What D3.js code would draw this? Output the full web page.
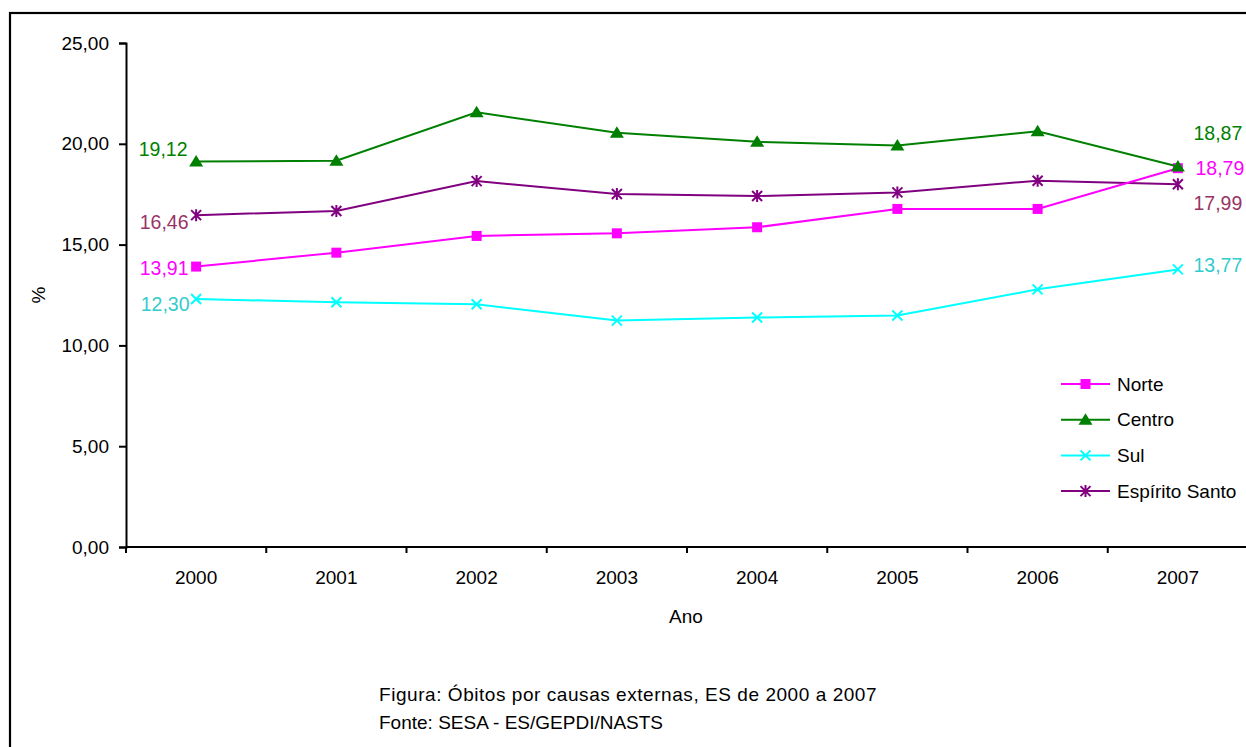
<!DOCTYPE html>
<html>
<head>
<meta charset="utf-8">
<script src="https://cdn.jsdelivr.net/npm/d3@7"></script>
<style>
  html, body { margin: 0; padding: 0; background: #fff; }
  svg { display: block; }
  text { font-family: "Liberation Sans", Arial, sans-serif; }
</style>
</head>
<body>
<script>
// Anos (categorias do eixo X)
const years = ["2000", "2001", "2002", "2003", "2004", "2005", "2006", "2007"];

// Percentual de óbitos por causas externas, por região
const norte = [13.91, 14.60, 15.43, 15.56, 15.86, 16.77, 16.77, 18.79];
const centro = [19.12, 19.16, 21.56, 20.55, 20.10, 19.92, 20.62, 18.87];
const sul = [12.30, 12.14, 12.04, 11.23, 11.38, 11.48, 12.78, 13.77];
const espiritoSanto = [16.46, 16.67, 18.15, 17.51, 17.41, 17.59, 18.17, 17.99];

const seriesNames = ["Norte", "Centro", "Sul", "Espírito Santo"];
const yTicks = [0, 5, 10, 15, 20, 25];

const W = 1246, H = 747;
const plot = { left: 126, right: 1248, top: 43, bottom: 547 };

const fmt = v => d3.format(".2f")(v).replace(".", ",");

const svg = d3.select("body").append("svg")
  .attr("width", W).attr("height", H);

// moldura externa
svg.append("rect")
  .attr("x", 10).attr("y", 13)
  .attr("width", W + 20).attr("height", H + 20)
  .attr("fill", "none").attr("stroke", "#000").attr("stroke-width", 2.2);

const x = d3.scaleBand().domain(years).range([plot.left, plot.right]).padding(0);
const y = d3.scaleLinear().domain([0, 25]).range([plot.bottom, plot.top]);

// eixo Y
const yAxis = svg.append("g")
  .attr("transform", `translate(${plot.left},0)`)
  .call(d3.axisLeft(y).tickValues(yTicks).tickFormat(fmt).tickSize(7).tickPadding(10));
yAxis.select(".domain").attr("stroke", "#000").attr("stroke-width", 2);
yAxis.selectAll(".tick line").attr("stroke", "#000").attr("stroke-width", 2);
yAxis.selectAll(".tick text").attr("font-size", 19).attr("fill", "#000");

// eixo X: marcas nas divisões entre categorias
const xAxisG = svg.append("g").attr("transform", `translate(0,${plot.bottom})`);
xAxisG.append("line")
  .attr("x1", plot.left).attr("x2", plot.right)
  .attr("stroke", "#000").attr("stroke-width", 2);
const bounds = years.map(d => x(d)).concat([plot.right]);
xAxisG.selectAll("line.tk").data(bounds).enter().append("line")
  .attr("class", "tk")
  .attr("x1", d => d).attr("x2", d => d)
  .attr("y1", 0).attr("y2", 6)
  .attr("stroke", "#000").attr("stroke-width", 2);
xAxisG.selectAll("text").data(years).enter().append("text")
  .attr("x", d => x(d) + x.bandwidth() / 2)
  .attr("y", 37)
  .attr("text-anchor", "middle")
  .attr("font-size", 19)
  .text(d => d);

// títulos dos eixos
svg.append("text")
  .attr("x", (plot.left + plot.right) / 2 - 1).attr("y", 623)
  .attr("text-anchor", "middle").attr("font-size", 19).text("Ano");
svg.append("text")
  .attr("transform", `translate(45,${(plot.top + plot.bottom) / 2}) rotate(-90)`)
  .attr("text-anchor", "middle").attr("font-size", 19).text("%");

// legenda da figura
svg.append("text").attr("x", 379).attr("y", 701).attr("font-size", 19)
  .attr("letter-spacing", 0.55)
  .text("Figura: Óbitos por causas externas, ES de 2000 a 2007");
svg.append("text").attr("x", 379).attr("y", 729).attr("font-size", 19)
  .text("Fonte: SESA - ES/GEPDI/NASTS");

// marcadores
function drawMarker(g, type, color) {
  if (type === "square") {
    g.append("rect").attr("x", -5).attr("y", -5).attr("width", 10).attr("height", 10)
      .attr("fill", color);
  } else if (type === "triangle") {
    g.append("path").attr("d", "M0,-6.5L7,5L-7,5Z").attr("fill", color);
  } else if (type === "x") {
    g.append("path").attr("d", "M-5,-5L5,5M-5,5L5,-5")
      .attr("stroke", color).attr("stroke-width", 2).attr("fill", "none");
  } else if (type === "star") {
    g.append("path").attr("d", "M-5,-5L5,5M-5,5L5,-5M0,-6L0,6")
      .attr("stroke", color).attr("stroke-width", 2).attr("fill", "none");
  }
}

const series = [
  { name: seriesNames[0], values: norte, color: "#FF00FF", marker: "square", labelColor: "#FF00FF",
    first: { dx: -32, dy: 1 }, last: { dx: 42, dy: 0 } },
  { name: seriesNames[1], values: centro, color: "#008000", marker: "triangle", labelColor: "#008000",
    first: { dx: -33, dy: -13 }, last: { dx: 40, dy: -34 } },
  { name: seriesNames[2], values: sul, color: "#00FFFF", marker: "x", labelColor: "#33CCCC",
    first: { dx: -31, dy: 5 }, last: { dx: 40, dy: -4 } },
  { name: seriesNames[3], values: espiritoSanto, color: "#800080", marker: "star", labelColor: "#993366",
    first: { dx: -32, dy: 7 }, last: { dx: 40, dy: 19 } }
];

const cx = i => x(years[i]) + x.bandwidth() / 2;
const line = d3.line().x((d, i) => cx(i)).y(d => y(d));

// desenha em ordem para que Centro fique por cima no último ponto
const drawOrder = [3, 2, 0, 1];
drawOrder.forEach(si => {
  const s = series[si];
  const g = svg.append("g");
  g.append("path").datum(s.values).attr("d", line)
    .attr("fill", "none").attr("stroke", s.color).attr("stroke-width", 2);
  s.values.forEach((v, i) => {
    drawMarker(g.append("g").attr("transform", `translate(${cx(i)},${y(v)})`), s.marker, s.color);
  });
});

// rótulos de valor (primeiro e último ano)
series.forEach(s => {
  const n = s.values.length;
  [[0, s.first], [n - 1, s.last]].forEach(([i, off]) => {
    svg.append("text")
      .attr("x", cx(i) + off.dx).attr("y", y(s.values[i]) + off.dy)
      .attr("text-anchor", "middle").attr("dominant-baseline", "central")
      .attr("font-size", 19.5).attr("fill", s.labelColor)
      .text(fmt(s.values[i]));
  });
});

// legenda
const legend = svg.append("g").attr("transform", "translate(1061,384)");
series.forEach((s, i) => {
  const row = legend.append("g").attr("transform", `translate(0,${i * 35.7})`);
  row.append("line").attr("x1", 0).attr("x2", 49)
    .attr("stroke", s.color).attr("stroke-width", 2);
  drawMarker(row.append("g").attr("transform", "translate(24.5,0)"), s.marker, s.color);
  row.append("text").attr("x", 56).attr("y", 0)
    .attr("dominant-baseline", "central").attr("font-size", 19)
    .text(s.name);
});
</script>
</body>
</html>
